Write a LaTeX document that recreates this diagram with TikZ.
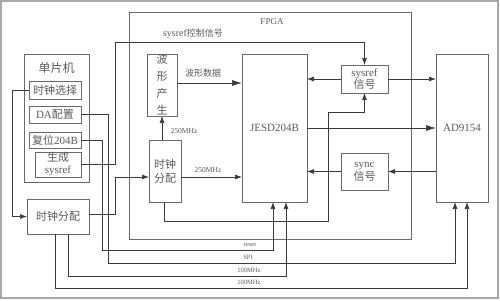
\documentclass[tikz,border=0pt]{standalone}
\usepackage{fontspec}
\setmainfont{Liberation Serif}
\newfontfamily\cjk{Noto Sans CJK SC}
\newcommand\zh[1]{{\cjk #1}}
\usetikzlibrary{arrows.meta}
\definecolor{ln}{HTML}{3A3A3A}
\definecolor{bx}{HTML}{6A6A6A}
\definecolor{tx}{HTML}{5A5A5A}
\definecolor{bd}{HTML}{A8A8A8}
\begin{document}
\begin{tikzpicture}[x=1pt,y=-1pt,
  box/.style={draw=bx,line width=0.9pt,inner sep=0pt,outer sep=0pt,text=tx,align=center,font=\fontsize{11}{13}\selectfont},
  conn/.style={draw=ln,line width=0.7pt},
  arr/.style={conn,-{Latex[length=7pt,width=5pt]}},
  bigarr/.style={conn,-{Latex[length=10pt,width=6pt]}},
  lbl/.style={text=tx,inner sep=0pt,font=\fontsize{7.5}{8}\selectfont},
  zlbl/.style={text=tx,inner sep=0pt,font=\cjk\fontsize{9}{10}\selectfont},
  slbl/.style={text=tx,inner sep=0pt,font=\fontsize{6.5}{7}\selectfont}]
\useasboundingbox (0,0) rectangle (500,300);
\draw[bd,line width=1.3pt] (1,1) rectangle (498,298);
% containers
\node[box,minimum width=282pt,minimum height=227pt] (fpga) at (270,125.5) {};
\node[lbl,font=\fontsize{9}{10}\selectfont] (fpgat) at (272,22) {FPGA};
\node[box,minimum width=65pt,minimum height=128pt] (mcu) at (56.5,118) {};
\node[text=tx,inner sep=0pt,font=\cjk\fontsize{12}{14}\selectfont] (mcut) at (56.5,68) {单片机};
% MCU boxes
\node[box,minimum width=52pt,minimum height=18pt] (sel) at (55,90) {\zh{时钟选择}};
\node[box,minimum width=52pt,minimum height=17pt] (da) at (55,114.5) {DA\zh{配置}};
\node[box,minimum width=52pt,minimum height=16pt] (rst) at (55,140) {\zh{复位}204B};
\node[box,minimum width=46pt,minimum height=25pt,font=\fontsize{11}{12}\selectfont] (gen) at (58,164.5) {\zh{生成}\\sysref};
\node[box,minimum width=62pt,minimum height=35pt] (clk1) at (58,216.5) {\zh{时钟分配}};
% FPGA boxes
\node[box,minimum width=30pt,minimum height=62pt,font=\cjk\fontsize{11}{17}\selectfont] (wave) at (162,85) {波\\形\\产\\生};
\node[box,minimum width=32pt,minimum height=62pt,font=\cjk\fontsize{11}{14}\selectfont] (clk2) at (165,171) {时钟\\分配};
\node[box,minimum width=65pt,minimum height=148pt] (jesd) at (274.5,128) {JESD204B};
\node[box,minimum width=47pt,minimum height=28pt,font=\fontsize{11}{12}\selectfont] (sref) at (364.5,79) {sysref\\\zh{信号}};
\node[box,minimum width=47pt,minimum height=37pt,font=\fontsize{11}{13}\selectfont] (sync) at (364.5,171.5) {sync\\\zh{信号}};
\node[box,minimum width=52pt,minimum height=148pt] (ad) at (462,128) {AD9154};
% helper coordinates
\coordinate (c1) at ([yshift=2.5pt]clk1.east);
\coordinate (c2) at ([yshift=-6pt]clk2.west);
\coordinate (c3) at ([yshift=-6pt]clk2.east);
\coordinate (w1) at ([yshift=2pt]wave.east);
\coordinate (k1) at ([xshift=-1pt]clk2.south);
% connectors
\draw[arr] (sel.west) -- ++(-17,0) |- (clk1.west);
\draw[arr] (da.east) -| (108,263) -| ([xshift=-7pt]ad.south);
\draw[arr] (rst.east) -| (102,250) -| ([xshift=-1.5pt]jesd.south);
\draw[arr] (gen.east) -| (115,42) -| (sref.north);
\draw[arr] (c1) -| (115,177) -- (c2);
\draw[arr] ([xshift=10pt]clk1.south) |- (286,276) -- ([xshift=11.5pt]jesd.south);
\draw[arr] ([xshift=-3pt]clk1.south) |- (467,288) -- ([xshift=5pt]ad.south);
\draw[arr] (clk2.north -| wave.south) -- (wave.south);
\draw[arr] (c3) -- (c3 -| jesd.west);
\draw[bigarr] (w1) -- (w1 -| jesd.west);
\draw[arr] (k1) |- (328,221) |- (364.5,112) -- (sref.south);
\draw[arr] (sref.west) -- (sref.west -| jesd.east);
\draw[arr] (sref.east) -- (sref.east -| ad.west);
\draw[bigarr] (jesd.east) -- (ad.west);
\draw[arr] (sync.east -| ad.west) -- (sync.east);
\draw[arr] (sync.west) -- (sync.west -| jesd.east);
% labels
\node[zlbl] (l1) at (193,34) {{\rmfamily\fontsize{10}{10}\selectfont sysref}控制信号};
\node[zlbl] (l2) at (203,73) {波形数据};
\node[lbl] (l3) at (184,131) {250MHz};
\node[lbl] (l4) at (208,170) {250MHz};
\node[slbl] (l5) at (250,245) {reset};
\node[slbl] (l6) at (248,257.5) {SPI};
\node[slbl] (l7) at (249,270) {100MHz};
\node[slbl] (l8) at (249,282) {100MHz};
\end{tikzpicture}
\end{document}
